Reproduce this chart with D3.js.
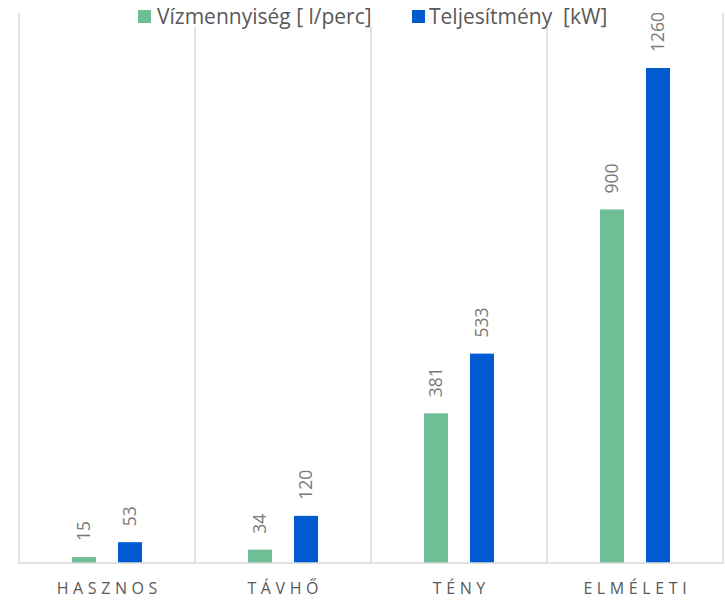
<!DOCTYPE html>
<html>
<head>
<meta charset="utf-8">
<script src="https://cdn.jsdelivr.net/npm/d3@7"></script>
<style>
  html, body { margin: 0; padding: 0; background: #fff; }
  svg { display: block; font-family: "Open Sans", "Noto Sans", sans-serif; }
</style>
</head>
<body>
<div id="chart"></div>
<script>
// Categories and the two measured series
const categories = ["HASZNOS", "TÁVHŐ", "TÉNY", "ELMÉLETI"];
const seriesNames = ["Vízmennyiség [ l/perc]", "Teljesítmény  [kW]"];
const waterFlow = [15, 34, 381, 900];
const power = [53, 120, 533, 1260];
const seriesColors = ["#70BE95", "#005BD1"];
const yMax = 1400;

const width = 725, height = 601;
const plotLeft = 19, plotRight = 723, plotTop = 13, baseline = 563;

const svg = d3.select("#chart").append("svg")
  .attr("width", width).attr("height", height);

const x = d3.scaleBand().domain(categories).range([plotLeft, plotRight]).paddingInner(0).paddingOuter(0);
const xInner = d3.scaleBand().domain([0, 1]).range([0, x.bandwidth()])
  .paddingInner(22 / 46).paddingOuter(53 / 46);
const y = d3.scaleLinear().domain([0, yMax]).range([baseline, plotTop]);

// Vertical separators between categories
const bounds = categories.map(c => x(c)).concat([plotRight]);
svg.append("g").selectAll("line").data(bounds).join("line")
  .attr("x1", d => d).attr("x2", d => d)
  .attr("y1", plotTop).attr("y2", baseline)
  .attr("stroke", "#D9D9D9").attr("stroke-width", 1.5);

// Bars
const rows = categories.map((c, i) => [waterFlow[i], power[i]].map((v, s) => ({ c, s, v })));
const flat = rows.flat();

svg.append("g").selectAll("rect").data(flat).join("rect")
  .attr("x", d => x(d.c) + xInner(d.s))
  .attr("y", d => y(d.v))
  .attr("width", xInner.bandwidth())
  .attr("height", d => baseline - y(d.v))
  .attr("fill", d => seriesColors[d.s]);

// Value labels, rotated above each bar
svg.append("g").selectAll("text").data(flat).join("text")
  .attr("transform", d => {
    const cx = x(d.c) + xInner(d.s) + xInner.bandwidth() / 2;
    return `translate(${cx},${y(d.v) - 16}) rotate(-90)`;
  })
  .attr("dy", "0.35em")
  .attr("text-anchor", "start")
  .attr("font-size", 17.5)
  .attr("fill", "#7A7A7A")
  .text(d => d.v);

// Category axis
const xAxis = svg.append("g").attr("transform", `translate(0,${baseline})`)
  .call(d3.axisBottom(x).tickSize(0).tickPadding(20));
xAxis.select(".domain").attr("stroke", "#D9D9D9").attr("stroke-width", 1.5)
  .attr("d", `M${plotLeft - 1},0H${plotRight + 1}`);
xAxis.selectAll("text")
  .attr("font-size", 16)
  .attr("font-family", "'Open Sans', sans-serif")
  .attr("letter-spacing", "4.6px")
  .attr("fill", "#595959")
  .attr("dx", "2.3px");

// Legend on a white box
const legend = svg.append("g");
legend.append("rect").attr("x", 133).attr("y", 0).attr("width", 484).attr("height", 27).attr("fill", "#fff");
const legendItems = [{ x: 138, tx: 157 }, { x: 412, tx: 429 }];
legendItems.forEach((p, i) => {
  legend.append("rect").attr("x", p.x).attr("y", 10).attr("width", 13).attr("height", 13)
    .attr("fill", seriesColors[i]);
  legend.append("text").attr("x", p.tx).attr("y", 24)
    .attr("font-size", 21).attr("fill", "#595959")
    .style("white-space", "pre")
    .text(seriesNames[i]);
});
</script>
</body>
</html>
